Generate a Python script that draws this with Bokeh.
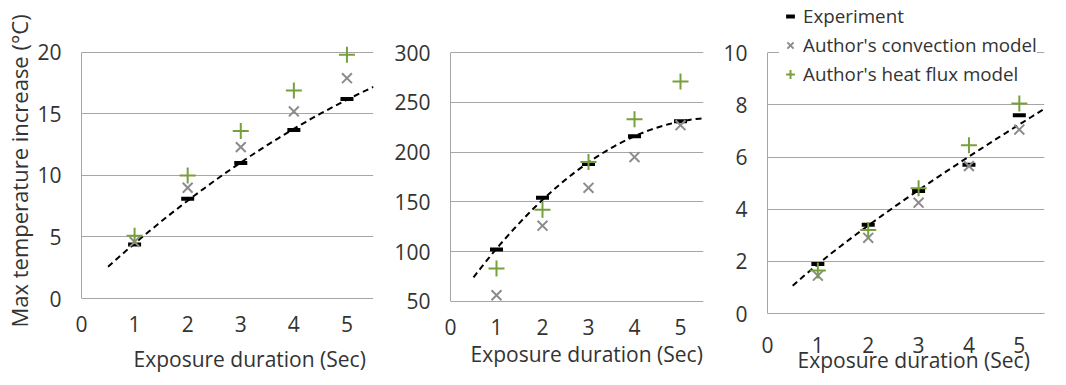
import numpy as np
from bokeh.plotting import figure
from bokeh.layouts import row
from bokeh.models import FixedTicker, Range1d, Title
from bokeh.embed import file_html
from bokeh.resources import INLINE

# ---- data ----
durations = [1, 2, 3, 4, 5]
x_ticks = [0, 1, 2, 3, 4, 5]

exp1 = [4.4, 8.1, 11.0, 13.7, 16.2]
conv1 = [4.6, 9.0, 12.3, 15.2, 17.9]
flux1 = [5.1, 10.0, 13.6, 16.9, 19.8]
y_ticks1 = [0, 5, 10, 15, 20]

exp2 = [102, 154, 188, 216, 231]
conv2 = [56, 126, 164, 195, 227]
flux2 = [83, 142, 190, 233, 271]
y_ticks2 = [50, 100, 150, 200, 250, 300]

exp3 = [1.9, 3.4, 4.7, 5.7, 7.6]
conv3 = [1.45, 2.9, 4.25, 5.65, 7.05]
flux3 = [1.65, 3.2, 4.8, 6.45, 8.05]
y_ticks3 = [0, 2, 4, 6, 8, 10]

series_names = ["Experiment", "Author's convection model", "Author's heat flux model"]
x_axis_title = "Exposure duration (Sec)"
y_axis_title = "Max temperature increase (\u00b0C)"

FONT = "Open Sans"
FS = "21px"
TXT = "#333333"
GRID = "#a6a6a6"
GREEN = "#77a03c"
GRAY = "#8c8c8c"
H = 385
BB = 71


def trend(exp, kind):
    xs = np.linspace(0.5, 5.5, 60)
    if kind == "power":
        b, lna = np.polyfit(np.log(durations), np.log(exp), 1)
        return xs, np.exp(lna) * xs ** b
    coef = np.polyfit(durations, exp, 2)
    return xs, np.polyval(coef, xs)


def make_panel(exp, conv, flux, yticks, y_lo, y_hi, width, bl, br, xtick_standoff,
               xt_offset, xt_standoff, xt_valign, kind, show_xline, ylabel=None,
               legend=False):
    p = figure(width=width, height=H, output_backend="svg", toolbar_location=None,
               x_range=Range1d(0, 5.5), y_range=Range1d(y_lo, y_hi),
               min_border_left=bl, min_border_right=br, min_border_top=0,
               min_border_bottom=BB)
    p.outline_line_color = None
    p.background_fill_color = "white"
    p.border_fill_color = "white"
    p.xgrid.grid_line_color = None
    p.ygrid.grid_line_color = GRID
    p.ygrid.grid_line_width = 1
    p.xaxis.ticker = FixedTicker(ticks=x_ticks)
    p.yaxis.ticker = FixedTicker(ticks=yticks)
    p.yaxis.bounds = (yticks[0], yticks[-1])
    for ax in (p.xaxis[0], p.yaxis[0]):
        ax.axis_line_color = GRID
        ax.axis_line_width = 1
        ax.major_tick_out = 0
        ax.major_tick_in = 0
        ax.minor_tick_out = 0
        ax.minor_tick_in = 0
        ax.major_label_text_font = FONT
        ax.major_label_text_font_size = FS
        ax.major_label_text_color = TXT
    if not show_xline:
        p.xaxis.axis_line_color = None
    p.yaxis.major_label_standoff = 20
    p.xaxis.major_label_standoff = xtick_standoff
    if ylabel:
        yt = Title(text=ylabel, align="left", offset=-14, standoff=2,
                   text_font=FONT, text_font_size="22px", text_font_style="normal",
                   text_color=TXT)
        p.add_layout(yt, "left")

    t = Title(text=x_axis_title, align="left", offset=xt_offset, standoff=xt_standoff,
              vertical_align=xt_valign, text_font=FONT, text_font_size=FS,
              text_font_style="normal", text_color=TXT)
    p.add_layout(t, "below")

    xs, ys = trend(exp, kind)
    p.line(xs, ys, line_color="black", line_width=2, line_dash="6 4")

    kw0 = dict(legend_label=series_names[0]) if legend else {}
    kw1 = dict(legend_label=series_names[1]) if legend else {}
    kw2 = dict(legend_label=series_names[2]) if legend else {}
    p.scatter(durations, exp, marker="dash", size=13, line_width=4, line_color="black", **kw0)
    p.scatter(durations, conv, marker="x", size=14, line_width=2, line_color=GRAY, **kw1)
    p.scatter(durations, flux, marker="cross", size=16, line_width=2, line_color=GREEN, **kw2)

    if legend:
        lg = p.legend[0]
        lg.location = (12, 226)
        lg.padding = 2
        lg.margin = 0
        lg.spacing = 3
        lg.label_height = 20
        lg.glyph_height = 22
        lg.glyph_width = 22
        lg.label_standoff = 2
        lg.label_text_font = FONT
        lg.label_text_font_size = "18.8px"
        lg.label_text_color = TXT
        lg.border_line_color = None
        lg.background_fill_color = "white"
        lg.background_fill_alpha = 1.0
    return p


# frames share the same top (0) and bottom (314 px); ranges padded so gridlines sit
# where the reference has them
p1 = make_panel(exp1, conv1, flux1, y_ticks1, -1.215, 24.21, 387, 76, 14, 2, 52, 21,
                "top", "poly", False, ylabel=y_axis_title)
p2 = make_panel(exp2, conv2, flux2, y_ticks2, 37.67, 352.4, 320, 63, 4, 5, 20, 4,
                "top", "poly", False)
p3 = make_panel(exp3, conv3, flux3, y_ticks3, 0, 12.0, 343, 60, 6, 23, 30, -23,
                "bottom", "power", True, legend=True)

layout = row(p1, p2, p3, spacing=0)

open("out.html", "w").write(file_html(layout, INLINE))
